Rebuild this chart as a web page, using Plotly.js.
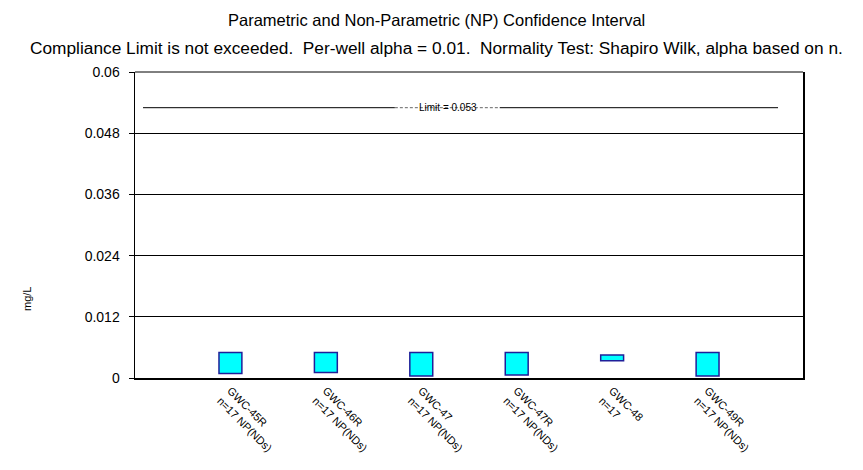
<!DOCTYPE html>
<html>
<head>
<meta charset="utf-8">
<script src="https://cdn.plot.ly/plotly-3.0.1.min.js"></script>
<style>html,body{margin:0;padding:0;background:#fff;}#chart{width:863px;height:470px;}</style>
</head>
<body>
<div id="chart"></div>
<script>
// Data
const wells = ["GWC-45R", "GWC-46R", "GWC-47", "GWC-47R", "GWC-48", "GWC-49R"];
const wellNotes = ["n=17 NP(NDs)", "n=17 NP(NDs)", "n=17 NP(NDs)", "n=17 NP(NDs)", "n=17", "n=17 NP(NDs)"];
const upperCI = [0.0050, 0.0050, 0.0050, 0.0050, 0.0045, 0.0050];
const lowerCI = [0.0009, 0.0011, 0.0004, 0.0006, 0.0034, 0.0004];
const limitValue = 0.053;
const yTicks = [0, 0.012, 0.024, 0.036, 0.048, 0.06];
const yTickText = ["0", "0.012", "0.024", "0.036", "0.048", "0.06"];

const xIdx = wells.map((w, i) => i);
const heights = upperCI.map((u, i) => u - lowerCI[i]);
const tickText = wells.map((w, i) => w + "<br>" + wellNotes[i]);

const font = "Liberation Sans, Arial, sans-serif";
const plotL = 135, plotW = 668;

const trace = {
  type: "bar",
  x: xIdx,
  y: heights,
  base: lowerCI,
  width: 0.24,
  marker: {color: "#00ffff", line: {color: "#1f1f99", width: 1.5}},
  hoverinfo: "skip"
};

const layout = {
  width: 863, height: 470,
  margin: {l: 135, r: 60, t: 72, b: 92},
  paper_bgcolor: "#ffffff",
  plot_bgcolor: "#ffffff",
  showlegend: false,
  font: {family: font, color: "#000"},
  xaxis: {
    range: [-1, 6],
    tickmode: "array",
    tickvals: xIdx,
    ticktext: tickText,
    tickangle: 45,
    tickfont: {size: 11, family: font, color: "#000"},
    showgrid: false, zeroline: false,
    showline: true, linecolor: "#000", linewidth: 2,
    ticks: "", fixedrange: true
  },
  yaxis: {
    range: [0, 0.06],
    tickmode: "array",
    tickvals: yTicks,
    ticktext: yTickText,
    tickfont: {size: 14, family: font, color: "#000"},
    ticklabelstandoff: 6,
    showgrid: true, gridcolor: "#000", gridwidth: 1,
    zeroline: false,
    showline: true, linecolor: "#000", linewidth: 1.5, mirror: true,
    ticks: "outside", ticklen: 5, tickcolor: "#000", tickwidth: 1,
    fixedrange: true
  },
  shapes: [
    {type: "line", xref: "paper", yref: "paper", x0: 0, x1: 1, y0: 1, y1: 1, line: {color: "#000", width: 1}},
    {type: "line", xref: "paper", yref: "y", x0: 0.012, x1: 0.389, y0: limitValue, y1: limitValue, line: {color: "#000", width: 1}},
    {type: "line", xref: "paper", yref: "y", x0: 0.389, x1: 0.546, y0: limitValue, y1: limitValue, line: {color: "#666", width: 1, dash: "3px,2px"}},
    {type: "line", xref: "paper", yref: "y", x0: 0.546, x1: 0.9626, y0: limitValue, y1: limitValue, line: {color: "#000", width: 1}}
  ],
  annotations: [
    {text: "Parametric and Non-Parametric (NP) Confidence Interval", xref: "paper", yref: "paper",
     x: (436 - plotL) / plotW, y: 1, yshift: 52, showarrow: false, xanchor: "center", yanchor: "middle",
     font: {size: 16.5, family: font, color: "#000"}},
    {text: "Compliance Limit is not exceeded.  Per-well alpha = 0.01.  Normality Test: Shapiro Wilk, alpha based on n.",
     xref: "paper", yref: "paper", x: (436 - plotL) / plotW, y: 1, yshift: 24, showarrow: false,
     xanchor: "center", yanchor: "middle", font: {size: 17.3, family: font, color: "#000"}},
    {text: "Limit = " + limitValue, xref: "paper", yref: "y", x: (447.5 - plotL) / plotW, y: limitValue,
     showarrow: false, xanchor: "center", yanchor: "middle", font: {size: 10, family: font, color: "#000"}},
    {text: "mg/L", xref: "paper", yref: "paper", x: 0, xshift: -108, y: (378 - 299) / 306,
     showarrow: false, textangle: -90, xanchor: "center", yanchor: "middle",
     font: {size: 11, family: font, color: "#000"}}
  ]
};

Plotly.newPlot("chart", [trace], layout, {displayModeBar: false, staticPlot: true});
</script>
</body>
</html>
